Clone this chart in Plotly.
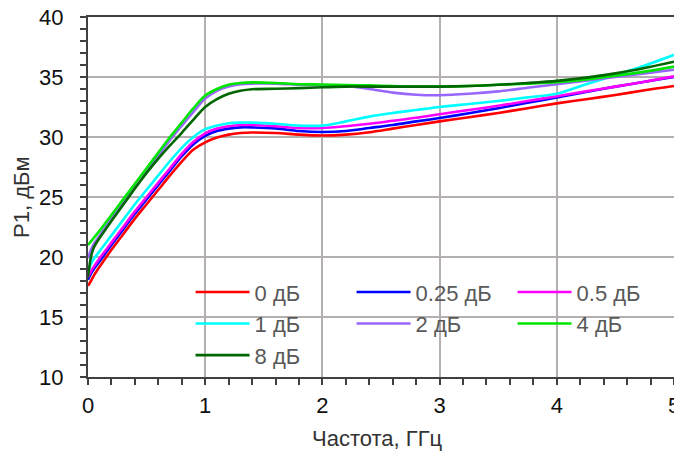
import plotly.graph_objects as go

freq = [0, 0.025, 0.05, 0.1, 0.2, 0.3, 0.4, 0.5, 0.6, 0.7, 0.8, 0.9, 1.0, 1.1, 1.2, 1.3, 1.4,
        1.6, 1.8, 2.0, 2.2, 2.4, 2.6, 2.8, 3.0, 3.25, 3.5, 3.75, 4.0, 4.25, 4.5, 4.75, 5.0]

p_0db = [17.6, 18.0, 18.45, 19.2, 20.6, 21.9, 23.2, 24.4, 25.6, 26.8, 27.95, 28.95, 29.55, 29.95, 30.2, 30.33, 30.38,
         30.33, 30.2, 30.12, 30.2, 30.4, 30.7, 31.0, 31.3, 31.65, 32.0, 32.4, 32.8, 33.15, 33.5, 33.9, 34.25]
p_025db = [18.1, 18.6, 19.0, 19.65, 21.0, 22.3, 23.6, 24.8, 26.0, 27.2, 28.4, 29.4, 30.1, 30.5, 30.7, 30.8, 30.8,
           30.72, 30.5, 30.42, 30.5, 30.75, 31.0, 31.3, 31.58, 31.98, 32.4, 32.85, 33.3, 33.75, 34.2, 34.6, 35.0]
p_05db = [18.3, 18.8, 19.2, 19.9, 21.2, 22.5, 23.8, 25.0, 26.2, 27.4, 28.6, 29.6, 30.3, 30.7, 30.9, 31.0, 31.0,
          30.9, 30.75, 30.75, 30.9, 31.1, 31.35, 31.6, 31.9, 32.25, 32.6, 33.0, 33.4, 33.8, 34.2, 34.6, 35.05]
p_1db = [18.8, 19.4, 19.85, 20.5, 21.8, 23.1, 24.4, 25.6, 26.8, 28.0, 29.1, 30.0, 30.65, 30.95, 31.15, 31.2, 31.2,
         31.1, 30.95, 30.95, 31.3, 31.7, 32.0, 32.25, 32.5, 32.75, 33.0, 33.3, 33.6, 34.4, 35.15, 35.95, 36.85]
p_2db = [19.9, 20.6, 21.1, 21.8, 23.2, 24.5, 25.85, 27.15, 28.45, 29.75, 30.95, 32.1, 33.2, 33.85, 34.2, 34.4, 34.45,
         34.45, 34.35, 34.3, 34.25, 34.0, 33.7, 33.52, 33.48, 33.6, 33.8, 34.1, 34.4, 34.7, 35.0, 35.3, 35.6]
p_4db = [21.0, 21.3, 21.6, 22.2, 23.5, 24.8, 26.1, 27.4, 28.7, 30.0, 31.2, 32.4, 33.45, 34.0, 34.35, 34.5, 34.55,
         34.5, 34.4, 34.38, 34.33, 34.3, 34.25, 34.2, 34.2, 34.25, 34.35, 34.45, 34.57, 34.8, 35.1, 35.45, 35.87]
p_8db = [18.3, 20.0, 20.8, 21.6, 23.0, 24.35, 25.7, 27.0, 28.2, 29.3, 30.35, 31.45, 32.5, 33.15, 33.6, 33.85, 33.98,
         34.02, 34.07, 34.15, 34.2, 34.2, 34.2, 34.2, 34.2, 34.25, 34.35, 34.5, 34.68, 34.95, 35.3, 35.75, 36.27]

names = ["0 дБ", "0.25 дБ", "0.5 дБ", "1 дБ", "2 дБ", "4 дБ", "8 дБ"]
series = [p_0db, p_025db, p_05db, p_1db, p_2db, p_4db, p_8db]
colors = ["#ff0000", "#0000ff", "#ff00ff", "#00ffff", "#9966ff", "#00e600", "#006600"]

FONT = "Liberation Sans, Arial, sans-serif"

fig = go.Figure()
for name, vals, col in zip(names, series, colors):
    fig.add_trace(go.Scatter(x=freq, y=vals, mode="lines", name=name,
                             line=dict(color=col, width=2.6, shape="spline", smoothing=0.8)))

axis_common = dict(
    showline=True, linecolor="#404040", linewidth=2, mirror=True,
    showgrid=True, gridcolor="#b4b0b0", gridwidth=2,
    ticks="outside", ticklen=6, tickwidth=2, tickcolor="#404040",
    zeroline=False, automargin=False, ticklabeloverflow="allow",
    tickfont=dict(family=FONT, size=22, color="#111111"),
)

fig.update_xaxes(range=[0, 5], dtick=1, tick0=0, ticklabelstandoff=2,
                 minor=dict(dtick=0.2, ticks="outside", ticklen=6, tickwidth=2, tickcolor="#404040", showgrid=False),
                 **axis_common)
fig.update_yaxes(range=[10, 40], dtick=5, tick0=10, ticklabelstandoff=12,
                 minor=dict(dtick=1, ticks="outside", ticklen=6, tickwidth=2, tickcolor="#404040", showgrid=False),
                 **axis_common)

# the page body has an 8px default margin; compensate so the chart sits like the reference
fig.update_layout(
    width=674, height=447,
    margin=dict(l=80, r=8, t=9, b=78),
    paper_bgcolor="white", plot_bgcolor="white",
    showlegend=True,
    legend=dict(orientation="h", x=0.175, y=0.294, xanchor="left", yanchor="top",
                bgcolor="rgba(0,0,0,0)", itemwidth=54,
                entrywidth=92, entrywidthmode="pixels",
                font=dict(family=FONT, size=22, color="#595959"),
                traceorder="normal"),
    annotations=[
        dict(text="Частота, ГГц", xref="paper", yref="paper", x=0.5, y=0, yshift=-61, xshift=-4,
             showarrow=False, xanchor="center", yanchor="middle",
             font=dict(family=FONT, size=22, color="#333333")),
        dict(text="P1, дБм", xref="paper", yref="paper", x=0, y=0.5, xshift=-67,
             showarrow=False, xanchor="center", yanchor="middle", textangle=-90,
             font=dict(family=FONT, size=22, color="#333333")),
    ],
)

fig.write_html("out.html")
